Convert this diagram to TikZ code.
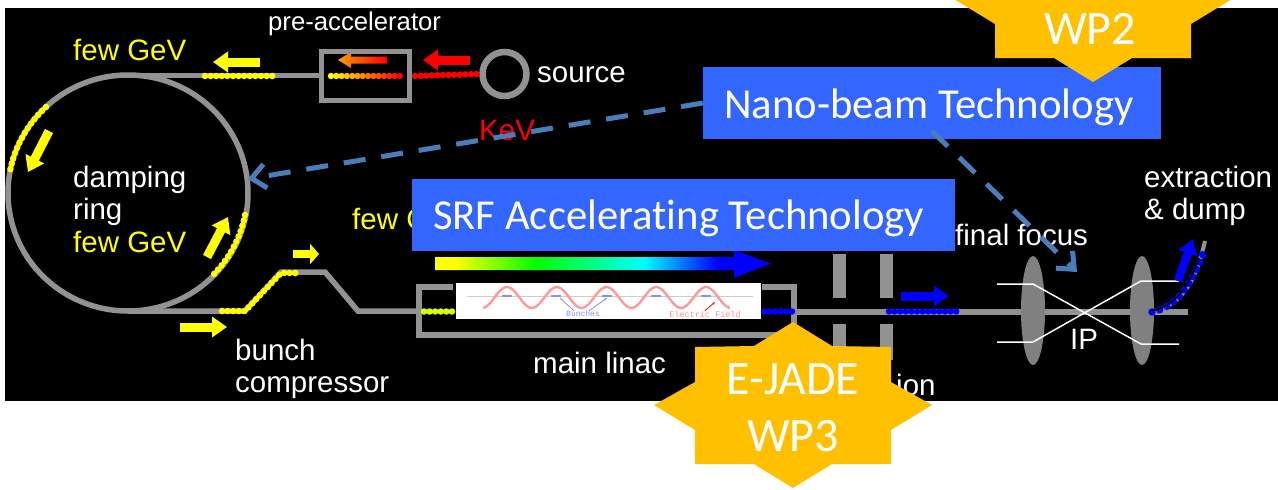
\documentclass[tikz,border=0pt]{standalone}
\usepackage{fontspec}
\setmainfont{Liberation Sans}
\newfontfamily\calfont[Ligatures=NoCommon]{Carlito}
\newfontfamily\tinyfont{Liberation Mono}
\usetikzlibrary{arrows.meta,positioning,calc,shapes.geometric}
\definecolor{cbeam}{HTML}{929292}
\definecolor{clens}{HTML}{808080}
\definecolor{cbox}{HTML}{3366FF}
\definecolor{cdash}{HTML}{4A7EBB}
\definecolor{cstar}{HTML}{FFC000}
\definecolor{cyell}{HTML}{FFFF00}
\pgfdeclarehorizontalshading{linacgrad}{100bp}{color(0bp)=(yellow); color(28bp)=(yellow);
  color(40bp)=(green); color(56bp)=(cyan); color(67bp)=(blue); color(100bp)=(blue)}
\newcommand{\burstpath}{(0,-83) -- (39,-59) -- (98,-58) -- (98,-23) -- (139,0) -- (98,25) -- (98,59)
  -- (39,59) -- (0,83) -- (-39,59) -- (-98,59) -- (-98,25) -- (-139,0) -- (-98,-23) -- (-98,-58)
  -- (-39,-59) -- cycle}

\begin{document}
\begin{tikzpicture}[
  x=1pt, y=-1pt,
  lbl/.style={font=\fontsize{29.5}{32}\selectfont, text=white, anchor=base west, inner sep=0pt},
  techbox/.style={fill=cbox, minimum height=72pt, inner sep=0pt},
  techtxt/.style={anchor=base west, inner sep=0pt, text=white, font=\calfont\fontsize{42.7}{46}\selectfont},
  wp/.style={text=white, inner sep=0pt, font=\calfont\fontsize{48}{52}\selectfont},
  pipe/.style={draw=cbeam, line width=5.5pt},
  bunch/.style={line width=6.5pt, line cap=round, dash pattern=on 0pt off 5.6pt, draw=#1},
  flow/.style={-{Triangle[length=15pt, width=20pt]}, line width=9pt, draw=#1},
  dashlink/.style={draw=cdash, line width=5pt, dash pattern=on 22pt off 16pt,
                   -{Straight Barb[length=14pt, width=24pt]}},
  burst/.style={fill=cstar},
]
\useasboundingbox (0,0) rectangle (1278,490);
\clip (0,0) rectangle (1278,490);
\fill[white] (0,0) rectangle (1278,490);
\fill[black] (5,8) rectangle (1278,401);

% ------------------------------------------------------------ damping ring
\node[ellipse, draw=cbeam, line width=5.5pt, inner sep=0pt, minimum width=240pt, minimum height=236pt]
  (dring) at (128,193) {};
\draw[pipe] (128,75.5) -- (320,75.5);
\draw[pipe] (128,311) -- (245,311) -- (281,272) -- (325,272) -- (358,311) -- (417,311);
\draw[bunch=cyell] (46,107) arc[x radius=120, y radius=118, start angle=227, end angle=190];
\draw[bunch=cyell] (245,215) arc[x radius=120, y radius=118, start angle=11, end angle=46];
\draw[bunch=cyell] (222,311) -- (245,311) -- (281,273) -- (299,273);
\draw[flow=cyell] (49,131) -- (28,172);
\draw[flow=cyell] (207,257) -- (228,217);
\draw[flow=cyell] (180,327) -- (227,327);
\draw[-{Triangle[length=9pt, width=20pt]}, line width=8pt, draw=cyell] (293,254) -- (319,254);

% ------------------------------------------------------------ source side
\node[draw=cbeam, line width=5pt, minimum width=88pt, minimum height=49pt, inner sep=0pt]
  (prebox) at (365.5,75.5) {};
\node[circle, draw=cbeam, line width=6.5pt, minimum size=44pt, inner sep=0pt] (source) at (504.5,74) {};
\draw[bunch=red] (415,76) -- (source.west);
\foreach \i/\mixv in {0/100,1/92,2/85,3/77,4/69,5/62,6/54,7/46,8/38,9/31,10/23,11/15,12/8,13/0} {
  \fill[cyell!\mixv!red] (331+\i*5.3,76) circle[radius=3.2];
}
\draw[bunch=cyell] (205,76) -- (275,76);
\draw[flow=cyell] (260,62) -- (213,62);
\draw[flow=red] (470,60) -- (423,60);
\shade[left color=orange!80!yellow, right color=red] (387,56.5) -- (351,56.5) -- (351,52) -- (338,60)
  -- (351,68) -- (351,63.5) -- (387,63.5) -- cycle;

% ------------------------------------------------------------ labels
\node[lbl, font=\fontsize{25.7}{28}\selectfont] (prelabel) at (268,30) {pre-accelerator};
\node[lbl, text=cyell] (fewtop) at (73,60.5) {few GeV};
\node[lbl] (srclabel) at (537,82) {source};
\node[lbl, text=red] (kev) at (479,140) {KeV};
\node[lbl] (damping) at (73,187) {damping};
\node[lbl] (ringlabel) at (73,219) {ring};
\node[lbl, text=cyell] (fewring) at (73,252) {few GeV};
\node[lbl, text=cyell] (fewlinac) at (352,229) {few GeV};
\node[lbl] (bunchlabel) at (235,360) {bunch};
\node[lbl] (complabel) at (235,392) {compressor};
\node[lbl] (linaclabel) at (533,373) {main linac};
\node[lbl] (ionlabel) at (896,395) {ion};
\node[lbl] (fflabel) at (955,245) {final focus};
\node[lbl] (extlabel) at (1144,187) {extraction};
\node[lbl] (dumplabel) at (1144,219) {\& dump};

% ------------------------------------------------------------ main linac
\draw[draw=cbeam, line width=5.5pt] (453,287) -- (419,287) -- (419,335) -- (794,335) -- (794,287) -- (762,287);
\draw[pipe] (794,312) -- (1188,312);
\node[fill=white, minimum width=305pt, minimum height=36pt, inner sep=0pt] (cavity) at (608,301) {};
\draw[line width=1pt, draw=black!20] (467,296) -- (753,296);
\draw[draw=red!40, line width=2.4pt, smooth] plot[domain=483:730, samples=90]
  (\x,{297.5-10.5*sin((\x-507)*7.236+90)});
\foreach \xc in {507,556,607,656,706}
  \draw[draw=blue!45, line width=2.4pt] (\xc-5,296) -- (\xc+5,296);
\node[text=blue!45, inner sep=0pt, font=\tinyfont\fontsize{8}{8}\selectfont] (bunchtxt) at (583,314) {Bunches};
\node[text=red!45, inner sep=0pt, font=\tinyfont\fontsize{8.5}{8}\selectfont] (fieldtxt) at (705,314) {Electric Field};
\draw[-{Stealth[length=3pt]}, draw=blue!45, line width=0.8pt] (bunchtxt.north west) ++(8,0) -- (560,298);
\draw[-{Stealth[length=3pt]}, draw=blue!45, line width=0.8pt] (bunchtxt.north) ++(6,0) -- (607,298);
\draw[-{Stealth[length=3pt]}, draw=red, line width=0.8pt] (fieldtxt.north) -- (715,302);
\draw[bunch=cyell!85!green] (424,311.5) -- (453,311.5);
\draw[bunch=blue] (764,311.5) -- (793,311.5);
\shade[shading=linacgrad] (435,257) -- (734,257) -- (734,250) -- (771,263.5) -- (734,278) -- (734,270)
  -- (435,270) -- cycle;

% ------------------------------------------------------------ collimators
\foreach \xc in {839.5,886.5} {
  \fill[cbeam] (\xc-6.5,254) rectangle (\xc+6.5,298);
  \fill[cbeam] (\xc-6.5,324) rectangle (\xc+6.5,360);
}
\draw[bunch=blue] (889,311.5) -- (958,311.5);
\draw[flow=blue] (901,296) -- (949,296);

% ------------------------------------------------------------ final focus
\node[ellipse, fill=clens, minimum width=24pt, minimum height=109pt, inner sep=0pt] (lensa) at (1033,310.5) {};
\node[ellipse, fill=clens, minimum width=24pt, minimum height=109pt, inner sep=0pt] (lensb) at (1142,310.5) {};
\draw[white, line width=1.5pt] (997,284) -- (lensa.center |- 0,284) -- (1141,344) -- (1179,344);
\draw[white, line width=1.5pt] (997,342) -- (lensa.center |- 0,342) -- (1141,281) -- (1179,281);
\node[lbl] (ip) at (1070,349) {IP};
\draw[draw=cbeam, line width=4pt] (1150,312) .. controls (1180,306) and (1195,285) .. (1205,241);
\draw[bunch=blue, line width=7.5pt, dash pattern=on 0pt off 8pt] (1152,312) .. controls (1178,307) and (1192,282) .. (1203,254);
\draw[black, line width=1.4pt] (1150,311) .. controls (1178,306) and (1191,282) .. (1199,258);
\draw[-{Triangle[length=15pt, width=19pt]}, line width=8.5pt, draw=blue] (1178,281) -- (1193,239);

% ------------------------------------------------------------ technology boxes
\node[techbox, minimum width=458pt] (nano) at (932,103) {};
\node[techbox, minimum width=543pt] (srf) at (683.5,214.5) {};
\node[techtxt] (nanotxt) at (724,118) {Nano-beam Technology};
\node[techtxt] (srftxt) at (433,229) {SRF Accelerating Technology};
\coordinate (focus) at (1077,272);
\draw[dashlink] (nano.west) -- ([xshift=-3pt,yshift=14pt]dring.east);
\draw[dashlink] ([yshift=-28pt]nano.center) -- (focus);

% ------------------------------------------------------------ stars
\fill[burst, shift={(793,405)}] \burstpath;
\fill[burst, shift={(1093,-1)}] \burstpath;
\node[wp] (ejade) at (793,379) {E-JADE};
\node[wp] (wpthree) at (793,436) {WP3};
\node[wp] (wptwo) at (1090,29) {WP2};
\end{tikzpicture}
\end{document}
